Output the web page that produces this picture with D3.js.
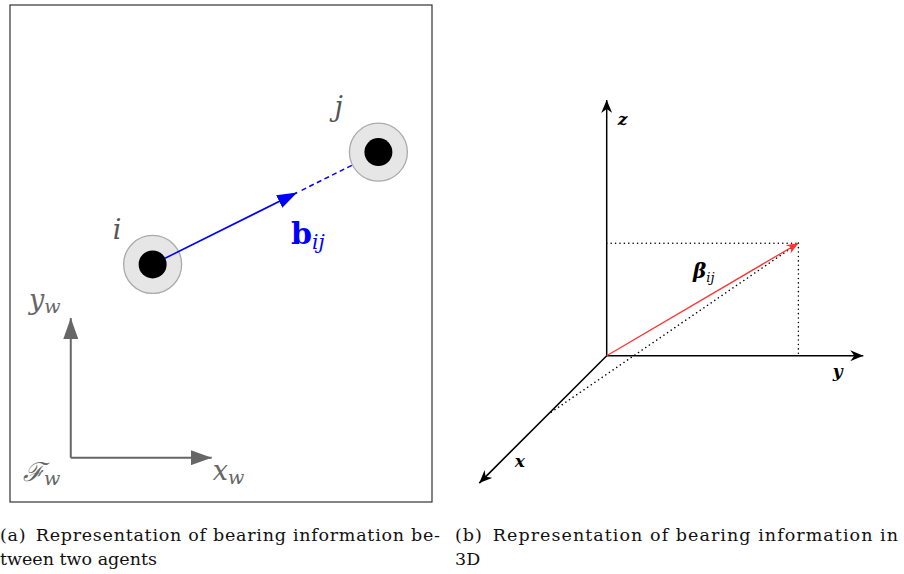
<!DOCTYPE html>
<html>
<head>
<meta charset="utf-8">
<script src="https://cdn.jsdelivr.net/npm/d3@7"></script>
<style>
  body { margin: 0; background: #fff; }
</style>
</head>
<body>
<svg id="fig" width="904" height="574" font-family="'DejaVu Serif', 'Liberation Serif', 'Times New Roman', serif"></svg>
<script>
// ---- panel (a): two agents in a world frame, coordinates in 0..100 ----
const agents = [
  {id: "i", x: 33.8, y: 47.8},
  {id: "j", x: 87.3, y: 70.4}
];
const frameOrigin = [14.4, 8.9];
const frameAxisEnd = {x: 47.8, y: 37.0};
// fractions of the way from agent i to agent j
const bearingSolid = [0.055, 0.64];
const bearingDashed = [0.66, 0.92];

// ---- panel (b): unit 3D axes and the bearing vector ----
const axes3d = [
  {name: "x", vec: {x: 1, y: 0, z: 0}},
  {name: "y", vec: {x: 0, y: 1, z: 0}},
  {name: "z", vec: {x: 0, y: 0, z: 1}}
];
const bearing3d = {x: 0, y: 0.747, z: 0.44};
const xFoot = 0.46;   // where the dotted diagonal meets the x axis

const captionA = ["(a)\u2002Representation of bearing information be-", "tween two agents"];
const captionB = ["(b)\u2002Representation of bearing information in", "3D"];

const svg = d3.select("#fig");
const defs = svg.append("defs");

function marker(id, path, color, w, h) {
  defs.append("marker")
      .attr("id", id)
      .attr("viewBox", [-w, -h, w + 1, 2 * h].join(" "))
      .attr("refX", 0).attr("refY", 0)
      .attr("markerUnits", "userSpaceOnUse")
      .attr("markerWidth", w + 1).attr("markerHeight", 2 * h)
      .attr("orient", "auto")
    .append("path")
      .attr("d", path)
      .attr("fill", color);
}
marker("tri-blue", "M0,0L-20,-7L-20,7Z", "#0000ff", 20, 7);
marker("tri-gray", "M0,0L-21,-7.5L-21,7.5Z", "#666", 21, 7.5);
marker("stealth-k", "M0,0L-13,-5.5L-9,0L-13,5.5Z", "#000", 13, 5.5);
marker("stealth-r", "M0,0L-12,-5L-8,0L-12,5Z", "#ff3333", 12, 5);

// ---------- panel (a) ----------
const x = d3.scaleLinear().domain([0, 100]).range([10, 432]);
const y = d3.scaleLinear().domain([0, 100]).range([502, 5]);

const ga = svg.append("g").attr("class", "panel-a");

ga.append("rect")
    .attr("x", x(0)).attr("y", y(100))
    .attr("width", x(100) - x(0)).attr("height", y(0) - y(100))
    .attr("fill", "none")
    .attr("stroke", "#333")
    .attr("stroke-width", 1.2);

// world frame
ga.append("line")
    .attr("x1", x(frameOrigin[0])).attr("y1", y(frameOrigin[1]))
    .attr("x2", x(frameAxisEnd.x)).attr("y2", y(frameOrigin[1]))
    .attr("stroke", "#666").attr("stroke-width", 2)
    .attr("marker-end", "url(#tri-gray)");
ga.append("line")
    .attr("x1", x(frameOrigin[0])).attr("y1", y(frameOrigin[1]))
    .attr("x2", x(frameOrigin[0])).attr("y2", y(frameAxisEnd.y))
    .attr("stroke", "#666").attr("stroke-width", 2)
    .attr("marker-end", "url(#tri-gray)");

function subLabel(g, px, py, main, sub, opts) {
  let t = g.append("text")
      .attr("x", px).attr("y", py)
      .attr("fill", opts.color)
      .style("font-size", opts.size + "px")
      .style("font-style", opts.mainItalic ? "italic" : "normal")
      .style("font-weight", opts.bold ? "bold" : "normal");
  t.append("tspan").text(main);
  if (sub) {
    t.append("tspan")
        .attr("dy", opts.subShift)
        .style("font-size", opts.subSize + "px")
        .style("font-style", "italic")
        .style("font-weight", "normal")
        .text(sub);
  }
  return t;
}

subLabel(ga, x(frameAxisEnd.x) + 1, 480, "x", "w",
  {color: "#666", size: 27, mainItalic: true, subSize: 19, subShift: 4});
subLabel(ga, 29, 309, "y", "w",
  {color: "#666", size: 27, mainItalic: true, subSize: 19, subShift: 4});
subLabel(ga, 23, 481, "\u2131", "w",
  {color: "#666", size: 26, mainItalic: true, subSize: 19, subShift: 4});

// bearing between agents
const ai = agents[0], aj = agents[1];
const along = t => [x(ai.x + (aj.x - ai.x) * t), y(ai.y + (aj.y - ai.y) * t)];

ga.append("line")
    .attr("x1", along(bearingDashed[0])[0]).attr("y1", along(bearingDashed[0])[1])
    .attr("x2", along(bearingDashed[1])[0]).attr("y2", along(bearingDashed[1])[1])
    .attr("stroke", "#0000ff").attr("stroke-width", 1.5)
    .attr("stroke-dasharray", "5,3.5");

// agents
const agent = ga.selectAll(".agent")
  .data(agents)
  .enter().append("g")
    .attr("class", "agent")
    .attr("transform", d => "translate(" + x(d.x) + "," + y(d.y) + ")");

agent.append("circle")
    .attr("r", 29)
    .attr("fill", "#e6e6e6")
    .attr("stroke", "#aaa")
    .attr("stroke-width", 1.3);
agent.append("circle")
    .attr("r", 14)
    .attr("fill", "#000");
agent.append("text")
    .attr("x", d => d.id === "i" ? -40 : -44)
    .attr("y", d => d.id === "i" ? -25 : -36)
    .attr("fill", "#555")
    .style("font-size", "27px")
    .style("font-style", "italic")
    .text(d => d.id);

ga.append("line")
    .attr("x1", along(bearingSolid[0])[0]).attr("y1", along(bearingSolid[0])[1])
    .attr("x2", along(bearingSolid[1])[0]).attr("y2", along(bearingSolid[1])[1])
    .attr("stroke", "#0000ff").attr("stroke-width", 1.6)
    .attr("marker-end", "url(#tri-blue)");

subLabel(ga, 291, 244, "b", "ij",
  {color: "#0000ff", size: 30, mainItalic: false, bold: true, subSize: 20, subShift: 5});

// ---------- panel (b) ----------
const s3y = d3.scaleLinear().domain([0, 1]).range([606.7, 863.3]);
const s3z = d3.scaleLinear().domain([0, 1]).range([355.7, 100]);
const s3x = d3.scaleLinear().domain([0, 1]).range([0, 127.4]);   // oblique x axis (45 deg)

const proj = p => [s3y(p.y) - s3x(p.x), s3z(p.z) + s3x(p.x)];

const gb = svg.append("g").attr("class", "panel-b");
const o = proj({x: 0, y: 0, z: 0});

// dotted guides
const pb = proj(bearing3d);
const guides = [
  [proj({x: 0, y: 0, z: bearing3d.z}), pb],
  [pb, proj({x: 0, y: bearing3d.y, z: 0})],
  [pb, proj({x: xFoot, y: 0, z: 0})]
];
gb.selectAll(".guide")
  .data(guides)
  .enter().append("line")
    .attr("class", "guide")
    .attr("x1", d => d[0][0]).attr("y1", d => d[0][1])
    .attr("x2", d => d[1][0]).attr("y2", d => d[1][1])
    .attr("stroke", "#000")
    .attr("stroke-width", 1.5)
    .attr("stroke-linecap", "round")
    .attr("stroke-dasharray", "0.1,4.3");

gb.selectAll(".axis3d")
  .data(axes3d)
  .enter().append("line")
    .attr("class", "axis3d")
    .attr("x1", o[0]).attr("y1", o[1])
    .attr("x2", d => proj(d.vec)[0]).attr("y2", d => proj(d.vec)[1])
    .attr("stroke", "#000")
    .attr("stroke-width", 1.5)
    .attr("marker-end", "url(#stealth-k)");

const axisLabelPos = {x: [-92, 111], y: [226, 21], z: [11, -231]};
gb.selectAll(".axis3d-label")
  .data(axes3d)
  .enter().append("text")
    .attr("class", "axis3d-label")
    .attr("x", d => o[0] + axisLabelPos[d.name][0])
    .attr("y", d => o[1] + axisLabelPos[d.name][1])
    .style("font-size", "17px")
    .style("font-style", "italic")
    .style("font-weight", "bold")
    .text(d => d.name);

gb.append("line")
    .attr("x1", o[0]).attr("y1", o[1])
    .attr("x2", pb[0]).attr("y2", pb[1])
    .attr("stroke", "#ff3333")
    .attr("stroke-width", 1.3)
    .attr("marker-end", "url(#stealth-r)");

subLabel(gb, 693, 278, "\u03b2", "ij",
  {color: "#000", size: 20, mainItalic: true, bold: true, subSize: 13, subShift: 4});

// ---------- captions ----------
// only the full first lines are stretched to the column width
const caps = [
  {lines: captionA, x: 0, widths: [440, null]},
  {lines: captionB, x: 455, widths: [443, null]}
];
caps.forEach(c => {
  c.lines.forEach((line, k) => {
    let t = svg.append("text")
        .attr("x", c.x)
        .attr("y", 541 + k * 24)
        .style("font-size", "17.5px")
        .style("fill", "#111")
        .text(line);
    if (c.widths[k]) {
      t.attr("textLength", c.widths[k]).attr("lengthAdjust", "spacing");
    }
  });
});
</script>
</body>
</html>
